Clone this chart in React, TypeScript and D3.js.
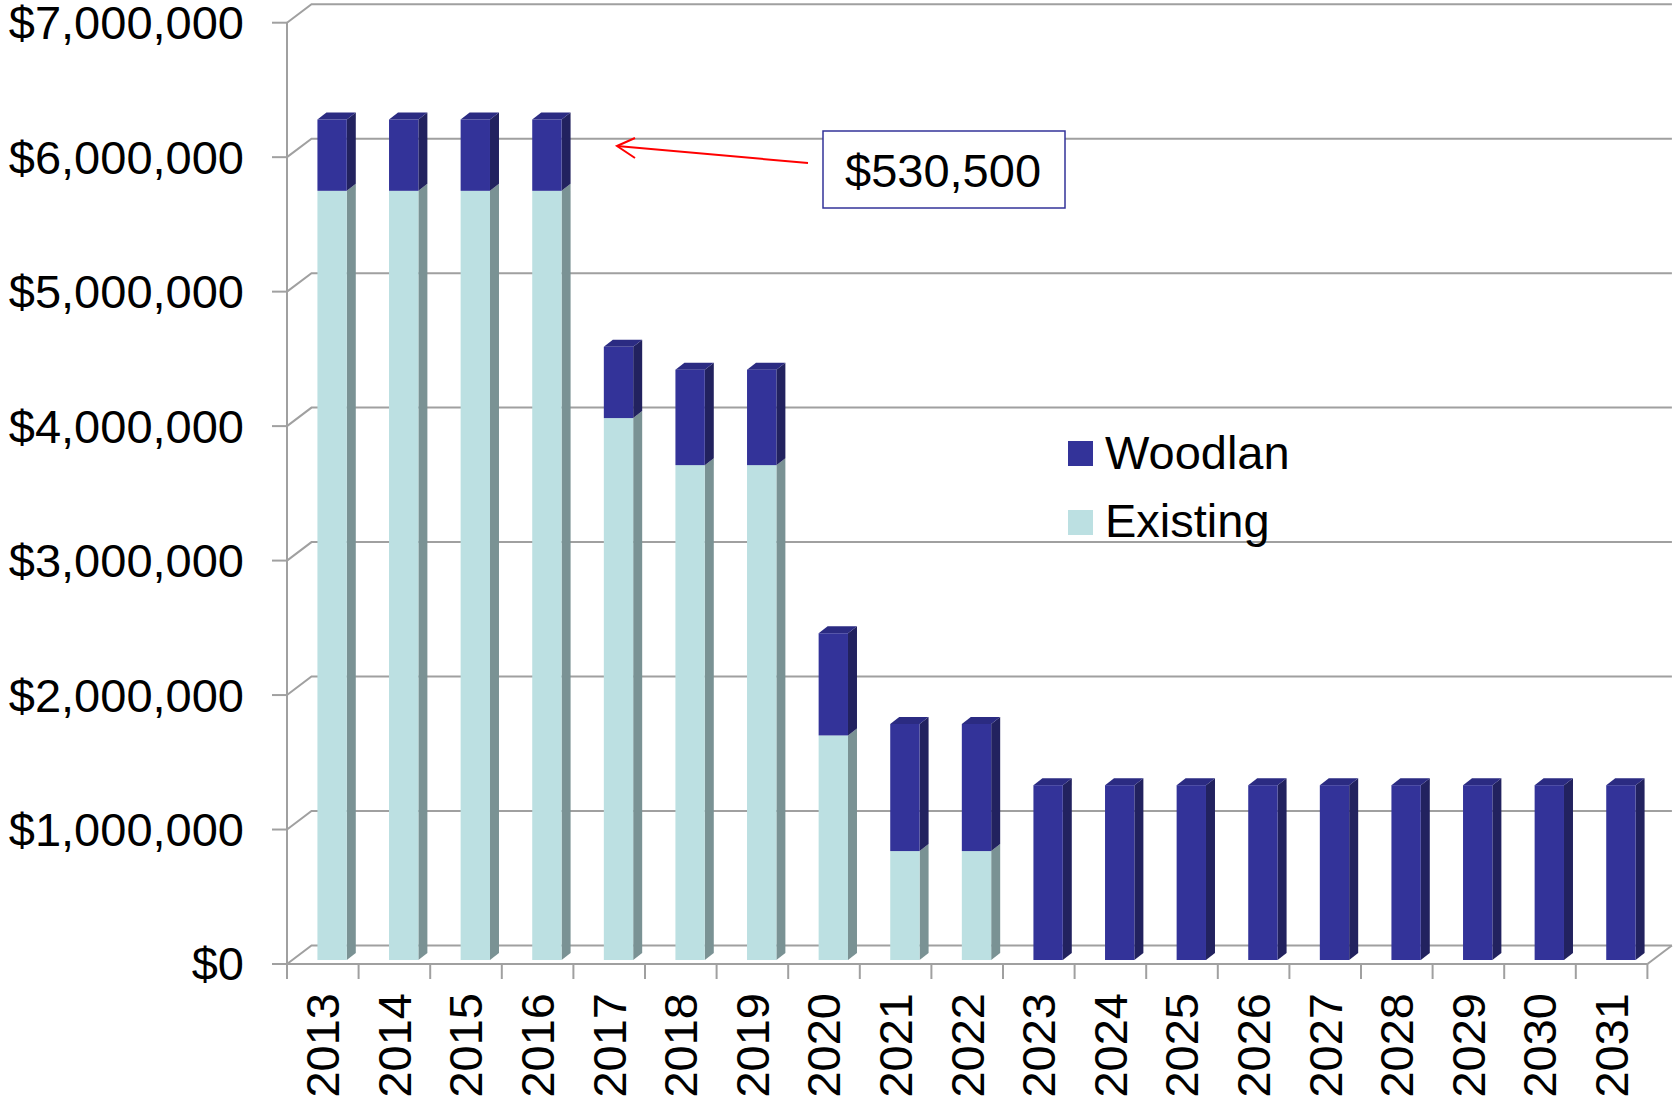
import React from "react";
import * as d3 from "d3";

const years = ["2013","2014","2015","2016","2017","2018","2019","2020","2021","2022","2023","2024","2025","2026","2027","2028","2029","2030","2031"];
const existing = [5720000,5720000,5720000,5720000,4030000,3680000,3680000,1670000,810000,810000,0,0,0,0,0,0,0,0,0];
const woodland = [530500,530500,530500,530500,530000,710000,710000,760000,945000,945000,1300000,1300000,1300000,1300000,1300000,1300000,1300000,1300000,1300000];
const yTicks = [0,1000000,2000000,3000000,4000000,5000000,6000000,7000000];
const seriesNames = ["Woodlan","Existing"];
const annotationText = "$530,500";

const W = 1675, H = 1102;
const FONT = "'Liberation Sans', Arial, Helvetica, sans-serif";
const GRID = "#a0a0a0";
const DEPTH_X = 24.5, DEPTH_Y = -18.5;
const BAR_DX = 9, BAR_DY = -7;
const COLORS = {
  wFront: "#333399", wSide: "#22225f", wTop: "#2b2b82",
  eFront: "#bce0e2", eSide: "#7a9294", eTop: "#a6cdd0",
};

export default function App() {
  const x = d3.scaleBand<string>().domain(years).range([287, 1647.4]).padding(0);
  const y = d3.scaleLinear().domain([0, 7000000]).range([964, 22.7]);
  const yb = (v: number) => y(v) - 4;
  const bw = x.bandwidth();
  const fmt = (v: number) => "$" + d3.format(",")(v);
  const x0 = 287, x1 = 1647.4;

  const bars: React.ReactNode[] = [];
  years.forEach((yr, i) => {
    const bx = (x(yr) as number) + bw * 0.425;
    const w = bw * 0.41;
    const segs = [
      { lo: 0, hi: existing[i], f: COLORS.eFront, s: COLORS.eSide, t: COLORS.eTop },
      { lo: existing[i], hi: existing[i] + woodland[i], f: COLORS.wFront, s: COLORS.wSide, t: COLORS.wTop },
    ].filter(s => s.hi > s.lo);
    segs.forEach((s, j) => {
      const yt = yb(s.hi), ybo = yb(s.lo);
      const isTop = j === segs.length - 1;
      bars.push(
        <g key={yr + "-" + j}>
          <polygon points={`${bx + w},${yt} ${bx + w + BAR_DX},${yt + BAR_DY} ${bx + w + BAR_DX},${ybo + BAR_DY} ${bx + w},${ybo}`} fill={s.s} />
          {isTop && <polygon points={`${bx},${yt} ${bx + BAR_DX},${yt + BAR_DY} ${bx + w + BAR_DX},${yt + BAR_DY} ${bx + w},${yt}`} fill={s.t} />}
          <rect x={bx} y={yt} width={w} height={ybo - yt} fill={s.f} />
        </g>
      );
    });
  });

  return (
    <svg width={W} height={H} style={{ position: "absolute", left: 0, top: 0, background: "#fff" }} fontFamily={FONT}>
      {/* back wall gridlines */}
      {yTicks.map(v => (
        <polyline key={"g" + v}
          points={`${x0},${y(v)} ${x0 + DEPTH_X},${y(v) + DEPTH_Y} ${x1 + DEPTH_X},${y(v) + DEPTH_Y}`}
          fill="none" stroke={GRID} strokeWidth={2} />
      ))}
      {/* floor */}
      <line x1={x0} y1={y(0)} x2={x1} y2={y(0)} stroke={GRID} strokeWidth={2} />
      <line x1={x1} y1={y(0)} x2={x1 + DEPTH_X} y2={y(0) + DEPTH_Y} stroke={GRID} strokeWidth={2} />
      {/* y axis */}
      <line x1={x0} y1={y(7000000)} x2={x0} y2={y(0)} stroke={GRID} strokeWidth={2} />
      {yTicks.map(v => (
        <g key={"t" + v}>
          <line x1={272} y1={y(v)} x2={x0} y2={y(v)} stroke={GRID} strokeWidth={2} />
          <text x={244} y={y(v)} dy="0.35em" textAnchor="end" fontSize={47} fill="#000">{fmt(v)}</text>
        </g>
      ))}
      {/* x ticks */}
      {d3.range(years.length + 1).map(i => (
        <line key={"xt" + i} x1={x0 + i * bw} y1={y(0)} x2={x0 + i * bw} y2={979} stroke={GRID} strokeWidth={2} />
      ))}
      {years.map(yr => (
        <text key={"xl" + yr} transform={`translate(${(x(yr) as number) + bw / 2},993) rotate(-90)`}
          dy="0.35em" textAnchor="end" fontSize={47} fill="#000">{yr}</text>
      ))}
      {bars}
      {/* legend */}
      <rect x={1068} y={441} width={25} height={25} fill={COLORS.wFront} />
      <text x={1105} y={469} fontSize={47} fill="#000">{seriesNames[0]}</text>
      <rect x={1068} y={510} width={25} height={25} fill={COLORS.eFront} />
      <text x={1105} y={537} fontSize={47} fill="#000">{seriesNames[1]}</text>
      {/* annotation */}
      <line x1={808} y1={163} x2={617} y2={146} stroke="#ff0000" strokeWidth={2} />
      <polyline points="635,138 617,146 635,158" fill="none" stroke="#ff0000" strokeWidth={2} />
      <rect x={823} y={131} width={242} height={77} fill="#fff" stroke="#333399" strokeWidth={1.5} />
      <text x={845} y={187} fontSize={47} fill="#000">{annotationText}</text>
    </svg>
  );
}
